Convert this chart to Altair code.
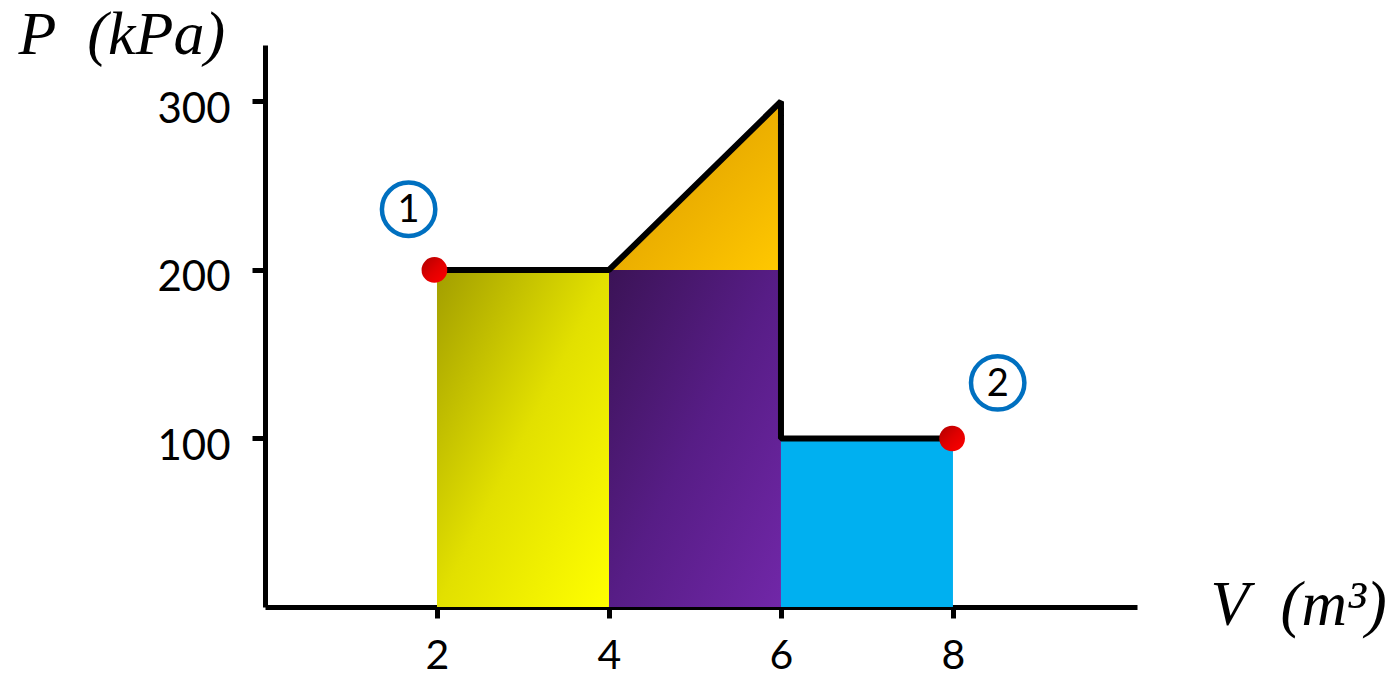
import altair as alt
import pandas as pd

# ---- data ----
rect_v_start = [2, 4, 6]
rect_v_end = [4, 6, 8]
rect_p_top = [200, 200, 100]
rect_names = ["yellow", "purple", "cyan"]

tri_v = [4, 6]
tri_p_top = [200, 300]
tri_p_base = [200, 200]

path_v = [2, 4, 6, 6, 8]
path_p = [200, 200, 300, 100, 100]

state_v = [1.97, 7.99]
state_p = [200, 100]

label_v = [1.67, 8.52]
label_p = [236, 133]
label_txt = ["1", "2"]

x_ticks = [2, 4, 6, 8]
y_ticks = [100, 200, 300]

# ---- tables ----
rects = pd.DataFrame({"v0": rect_v_start, "v1": rect_v_end, "p": rect_p_top,
                      "name": rect_names})
tri = pd.DataFrame({"v": tri_v, "p": tri_p_top, "p0": tri_p_base})
path = pd.DataFrame({"v": path_v, "p": path_p, "i": list(range(len(path_v)))})
states = pd.DataFrame({"v": state_v, "p": state_p})
labels = pd.DataFrame({"v": label_v, "p": label_p, "t": label_txt})

xscale = alt.Scale(domain=[0, 10.14], nice=False, zero=False)
yscale = alt.Scale(domain=[0, 333.5], nice=False, zero=False)

serif = "Liberation Serif"
sans = "Lato"

xaxis = alt.Axis(values=x_ticks, grid=False, domainColor="black", domainWidth=5,
                 tickColor="black", tickWidth=5, tickSize=11, labelFont=sans,
                 labelFontSize=41, labelColor="black", labelPadding=18,
                 title="V\u2002(m³)", titleFont=serif, titleFontStyle="italic",
                 titleFontWeight="normal", titleFontSize=63, titleColor="black",
                 titleAngle=0, titleAlign="left", titleBaseline="alphabetic",
                 titleX=945, titleY=17)
yaxis = alt.Axis(values=y_ticks, grid=False, domainColor="black", domainWidth=5,
                 tickColor="black", tickWidth=5, tickSize=13, labelFont=sans,
                 labelFontSize=42, labelColor="black", labelPadding=22,
                 labelOffset=8,
                 title="P\u2002(kPa)", titleFont=serif, titleFontStyle="italic",
                 titleFontWeight="normal", titleFontSize=62, titleColor="black",
                 titleAngle=0, titleAlign="left", titleBaseline="alphabetic",
                 titleX=-247, titleY=8)


def grad(c0, c1, c2):
    return alt.LinearGradient(
        gradient="linear", x1=0, y1=0, x2=1, y2=1,
        stops=[alt.GradientStop(color=c0, offset=0),
               alt.GradientStop(color=c1, offset=0.5),
               alt.GradientStop(color=c2, offset=1)])


def rect_layer(name, fill):
    return alt.Chart(rects).transform_filter(
        alt.datum.name == name
    ).mark_rect(fill=fill, strokeWidth=0).encode(
        x=alt.X("v0:Q", scale=xscale, axis=xaxis),
        x2="v1:Q",
        y=alt.Y("p:Q", scale=yscale, axis=yaxis),
        y2=alt.datum(0),
    )


yellow = rect_layer("yellow", grad("#A29E00", "#E2E000", "#FFFF00"))
purple = rect_layer("purple", grad("#3B1356", "#571D86", "#7127A8"))
cyan = rect_layer("cyan", "#00B0F0")

triangle = alt.Chart(tri).mark_area(
    fill=grad("#DA9C00", "#EBAE00", "#FFC800"), line=False
).encode(
    x=alt.X("v:Q", scale=xscale, axis=xaxis),
    y=alt.Y("p:Q", scale=yscale, axis=yaxis),
    y2="p0:Q",
)

outline = alt.Chart(path).mark_line(
    color="black", strokeWidth=6, strokeJoin="bevel"
).encode(
    x=alt.X("v:Q", scale=xscale, axis=xaxis),
    y=alt.Y("p:Q", scale=yscale, axis=yaxis),
    order="i:O",
)

dots = alt.Chart(states).mark_point(
    shape="circle", filled=True, size=660, opacity=1,
    fill=grad("#B00000", "#E00000", "#FF0000"), strokeWidth=0
).encode(
    x=alt.X("v:Q", scale=xscale, axis=xaxis),
    y=alt.Y("p:Q", scale=yscale, axis=yaxis),
)

rings = alt.Chart(labels).mark_point(
    shape="circle", filled=False, size=2850, color="#0070C0",
    strokeWidth=4.5, opacity=1
).encode(
    x=alt.X("v:Q", scale=xscale, axis=xaxis),
    y=alt.Y("p:Q", scale=yscale, axis=yaxis),
)

ring_text = alt.Chart(labels).mark_text(
    font=sans, fontSize=38, color="black", baseline="middle", align="center", dy=2
).encode(
    x=alt.X("v:Q", scale=xscale, axis=xaxis),
    y=alt.Y("p:Q", scale=yscale, axis=yaxis),
    text="t:N",
)

chart = alt.layer(
    yellow, purple, cyan, triangle, outline, dots, rings, ring_text
).properties(
    width=872, height=562,
    autosize=alt.AutoSizeParams(type="none"),
    padding={"left": 257, "top": 37, "right": 255, "bottom": 72},
    background="white",
).configure_view(stroke=None)

chart.save("out.html", embed_options={"renderer": "svg", "actions": False})
